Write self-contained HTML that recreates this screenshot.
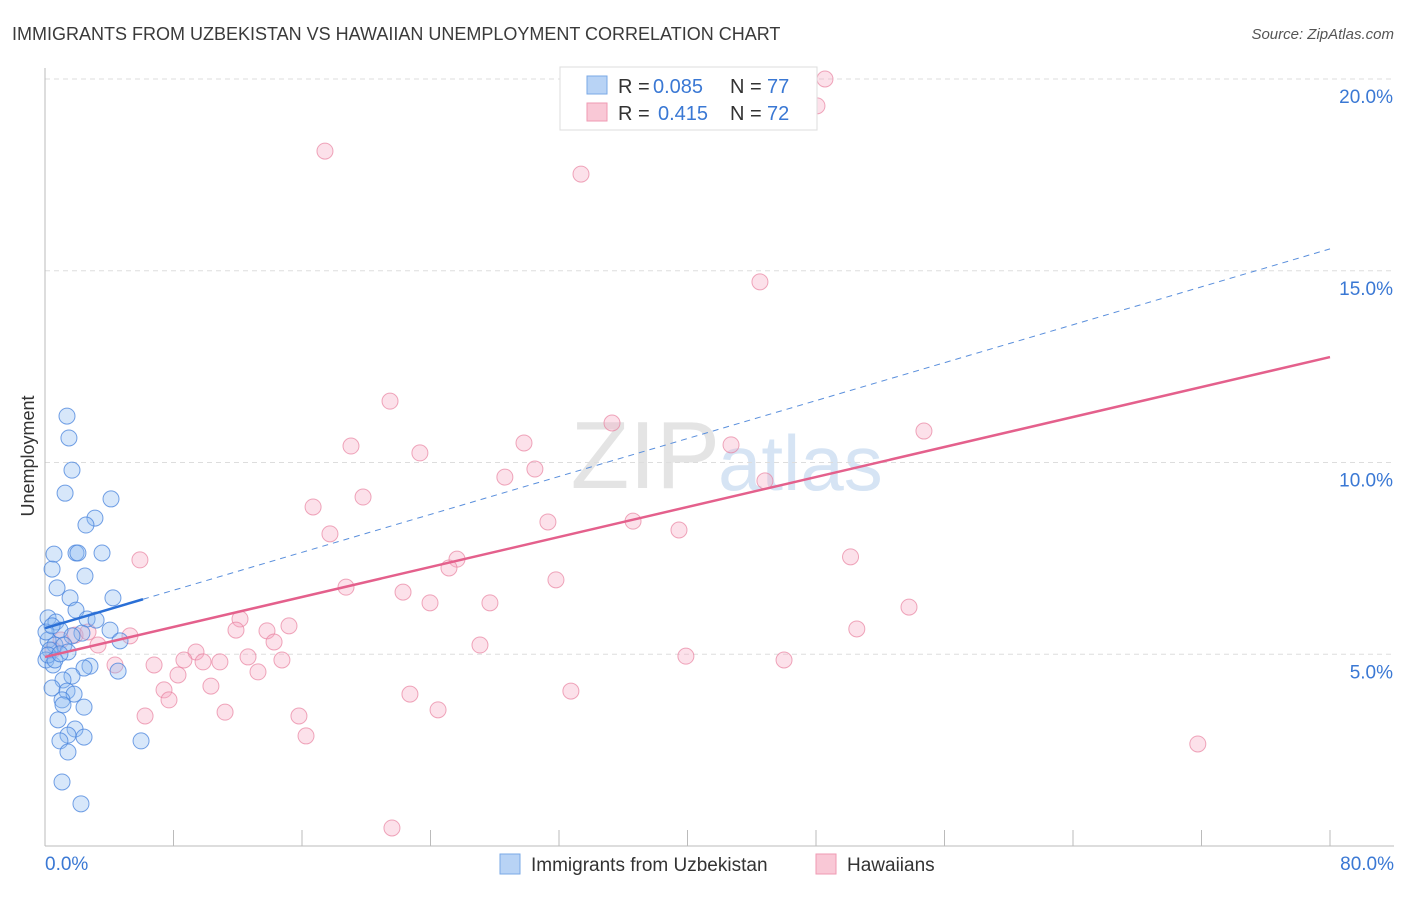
<!DOCTYPE html>
<html><head><meta charset="utf-8"><style>
body{margin:0;background:#fff;font-family:"Liberation Sans",sans-serif;}
svg text{font-family:"Liberation Sans",sans-serif;}
</style></head><body>
<svg id="chart" width="1406" height="892" viewBox="0 0 1406 892">
<text x="12" y="40" font-size="18" fill="#3a3a3a">IMMIGRANTS FROM UZBEKISTAN VS HAWAIIAN UNEMPLOYMENT CORRELATION CHART</text>
<text x="1394" y="39" font-size="15" fill="#555" font-style="italic" text-anchor="end">Source: ZipAtlas.com</text>
<text x="720" y="488" font-size="96" fill="#e4e4e4" text-anchor="end" font-family="Liberation Serif">ZIP</text>
<text x="718" y="490" font-size="78" fill="#d6e4f4">atlas</text>
<g id="grid"></g>
<g id="axes"></g>
<g id="pts"></g>
<g id="lines"></g>
<text transform="translate(34,456) rotate(-90)" font-size="18" fill="#333" text-anchor="middle">Unemployment</text>
<g>
<rect x="560" y="67" width="257" height="63" fill="#fff" stroke="#ddd"/>
<rect x="587" y="76" width="20" height="18" fill="#b8d3f5" stroke="#7aa8e6"/>
<rect x="587" y="103" width="20" height="18" fill="#f9c8d6" stroke="#ef9ab3"/>
<text x="618" y="93" font-size="20" fill="#333">R =</text>
<text x="653" y="93" font-size="20" fill="#3a78d4">0.085</text>
<text x="730" y="93" font-size="20" fill="#333">N =</text>
<text x="767" y="93" font-size="20" fill="#3a78d4">77</text>
<text x="618" y="120" font-size="20" fill="#333">R =</text>
<text x="658" y="120" font-size="20" fill="#3a78d4">0.415</text>
<text x="730" y="120" font-size="20" fill="#333">N =</text>
<text x="767" y="120" font-size="20" fill="#3a78d4">72</text>
</g>
<g>
<rect x="500" y="854" width="20" height="20" fill="#b8d3f5" stroke="#7aa8e6"/>
<text x="531" y="871" font-size="19" fill="#333">Immigrants from Uzbekistan</text>
<rect x="816" y="854" width="20" height="20" fill="#f9c8d6" stroke="#ef9ab3"/>
<text x="847" y="871" font-size="19" fill="#333">Hawaiians</text>
</g>
</svg>
<script>
const yTicks=[5,10,15,20];
const yTickLabels=["5.0%","10.0%","15.0%","20.0%"];
const xTickLabels=["0.0%","80.0%"];
const blueX=[1.37,1.49,1.68,1.25,4.11,3.11,2.55,0.56,1.93,2.05,3.55,0.44,2.49,0.75,1.56,4.23,1.93,0.19,2.62,3.18,0.68,4.05,0.93,2.30,1.68,0.19,4.67,0.62,1.18,0.31,1.43,0.06,0.50,2.80,2.43,4.55,1.68,1.12,0.44,1.37,1.81,1.06,2.43,1.12,0.81,1.87,1.43,2.43,0.93,5.98,1.43,1.06,2.24,0.19,0.62,0.06,0.93,0.44];
const blueY=[11.21,10.64,9.80,9.20,9.05,8.55,8.37,7.61,7.64,7.64,7.64,7.22,7.04,6.73,6.47,6.47,6.15,5.95,5.92,5.89,5.84,5.63,5.63,5.55,5.48,5.37,5.35,5.24,5.24,5.11,5.06,4.85,4.72,4.69,4.64,4.56,4.43,4.33,4.12,4.04,3.96,3.81,3.62,3.68,3.29,3.05,2.89,2.84,2.74,2.74,2.45,1.67,1.10,4.98,4.85,5.58,5.01,5.74];
const pinkX=[48.56,48.06,17.43,33.37,44.51,21.48,35.30,19.05,54.72,42.71,29.82,23.34,30.50,28.63,44.82,19.80,16.69,31.31,36.61,39.47,17.74,5.91,50.15,25.65,25.15,31.81,18.74,22.29,23.97,27.70,53.79,12.14,15.19,11.89,13.82,50.54,5.29,14.26,27.08,3.30,1.0,1.87,2.68,0.5,9.40,39.90,8.65,9.84,10.89,12.64,14.75,6.79,46.01,4.36,13.26,8.28,7.41,10.33,7.72,32.74,22.72,24.47,11.21,6.23,15.81,16.25,71.77,21.60];
const pinkY=[20.0,19.30,18.12,17.52,14.71,11.60,11.03,10.43,10.82,10.46,10.51,10.25,9.83,9.62,9.52,9.10,8.84,8.45,8.47,8.24,8.14,7.46,7.54,7.48,7.25,6.94,6.75,6.62,6.34,6.34,6.23,5.92,5.74,5.63,5.61,5.66,5.48,5.32,5.24,5.24,5.37,5.5,5.58,5.11,5.06,4.95,4.85,4.80,4.80,4.93,4.85,4.72,4.85,4.72,4.54,4.46,4.07,4.17,3.81,4.04,3.96,3.55,3.49,3.39,3.39,2.87,2.66,0.47];
const blueTrend=[5.68,15.57];
const pinkTrend=[4.93,12.75];
const X=v=>45+v*(1285/80);
const Y=v=>846-v*38.35;
const NS="http://www.w3.org/2000/svg";
function mk(tag,attrs,parent){const e=document.createElementNS(NS,tag);for(const k in attrs)e.setAttribute(k,attrs[k]);document.getElementById(parent).appendChild(e);return e;}
yTicks.forEach((t,i)=>{
  const g=mk('line',{x1:45,x2:1394,y1:Y(t),y2:Y(t),stroke:'#ddd','stroke-dasharray':'5,4'},'grid');
  
  
  const tx=mk('text',{x:1393,y:Y(t)+24,'font-size':19,fill:'#3a78d4','text-anchor':'end'},'axes');
  tx.textContent=yTickLabels[i];
  
  
});
const ax=mk('line',{x1:45,x2:45,y1:68,y2:846,stroke:'#bbb'},'axes');


const bx=mk('line',{x1:45,x2:1394,y1:846,y2:846,stroke:'#bbb'},'axes');


for(let i=1;i<=10;i++){
  const t=mk('line',{x1:X(i*8),x2:X(i*8),y1:830,y2:846,stroke:'#bbb'},'axes');
  
  
}
[[0,'start',45],[80,'end',1394]].forEach((d,i)=>{
  const t=mk('text',{x:d[2],y:870,'font-size':19,fill:'#3a78d4','text-anchor':d[1]},'axes');
  t.textContent=xTickLabels[i];
  
  
});
pinkX.forEach((v,i)=>{
  const c=mk('circle',{cx:X(v),cy:Y(pinkY[i]),r:8,fill:'rgba(246,170,195,0.35)',stroke:'rgba(232,130,160,0.7)','stroke-width':1},'pts');
  
  
});
blueX.forEach((v,i)=>{
  const c=mk('circle',{cx:X(v),cy:Y(blueY[i]),r:8,fill:'rgba(140,185,240,0.35)',stroke:'rgba(70,130,220,0.75)','stroke-width':1},'pts');
  
  
});
const by=v=>blueTrend[0]+(blueTrend[1]-blueTrend[0])*v/80;
const l1=mk('line',{x1:X(0),y1:Y(by(0)),x2:X(6.1),y2:Y(by(6.1)),stroke:'#2a6fd6','stroke-width':2.5},'lines');


const l2=mk('line',{x1:X(6.1),y1:Y(by(6.1)),x2:X(80),y2:Y(by(80)),stroke:'#5a8fdc','stroke-width':1,'stroke-dasharray':'6,5'},'lines');


const l3=mk('line',{x1:X(0),y1:Y(pinkTrend[0]),x2:X(80),y2:Y(pinkTrend[1]),stroke:'#e4608c','stroke-width':2.5},'lines');


</script>
</body></html>
